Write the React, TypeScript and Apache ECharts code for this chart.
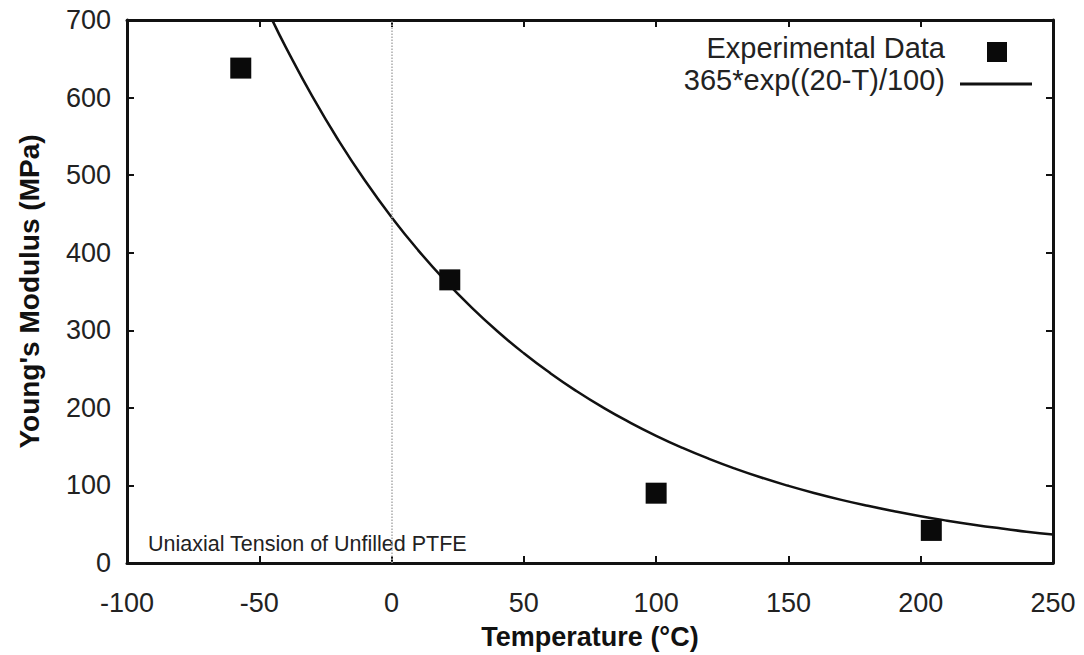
import React, { useEffect, useRef } from "react";
import * as echarts from "echarts";

const expTemps = [-57, 22, 100, 204];
const expModulus = [638, 365, 90, 42];

const fitTemps = [-45, -40, -30, -20, -10, 0, 10, 20, 30, 40, 50, 60, 70, 80, 90, 100, 110, 120, 130, 140, 150, 160, 170, 180, 190, 200, 210, 220, 230, 240, 250];
const fitModulus = [699.2, 665.1, 601.8, 544.5, 492.7, 445.8, 403.4, 365, 330.3, 298.8, 270.4, 244.7, 221.4, 200.3, 181.3, 164.0, 148.4, 134.3, 121.5, 109.9, 99.5, 90.0, 81.4, 73.7, 66.7, 60.3, 54.6, 49.4, 44.7, 40.4, 36.6];

const xTicks = [-100, -50, 0, 50, 100, 150, 200, 250];
const yTicks = [0, 100, 200, 300, 400, 500, 600, 700];

const legendLabels = ["Experimental Data", "365*exp((20-T)/100)"];
const annotation = "Uniaxial Tension of Unfilled PTFE";

const FONT = "Liberation Sans, Arial, sans-serif";

export default function App() {
  const ref = useRef<HTMLDivElement>(null);
  useEffect(() => {
    if (!ref.current) return;
    const chart = echarts.init(ref.current, null, { renderer: "svg" });
    const axisLine = { show: true, onZero: false, lineStyle: { color: "#111", width: 3 } };
    const tick = { show: true, inside: true, length: 7, lineStyle: { color: "#111", width: 2 } };
    chart.setOption({
      animation: false,
      backgroundColor: "#fff",
      grid: { left: 127, right: 31, top: 20, bottom: 87, containLabel: false },
      xAxis: [
        {
          type: "value",
          min: xTicks[0],
          max: xTicks[xTicks.length - 1],
          interval: 50,
          axisLine,
          axisTick: tick,
          splitLine: { show: false },
          axisLabel: { color: "#222", fontSize: 27, fontFamily: FONT, margin: 26 },
          name: "Temperature (°C)",
          nameLocation: "middle",
          nameGap: 60,
          nameTextStyle: { color: "#111", fontSize: 27, fontWeight: "bold", fontFamily: FONT },
        },
        {
          type: "value",
          position: "top",
          min: xTicks[0],
          max: xTicks[xTicks.length - 1],
          interval: 50,
          axisLine,
          axisTick: tick,
          splitLine: { show: false },
          axisLabel: { show: false },
        },
      ],
      yAxis: [
        {
          type: "value",
          min: yTicks[0],
          max: yTicks[yTicks.length - 1],
          interval: 100,
          axisLine,
          axisTick: tick,
          splitLine: { show: false },
          axisLabel: { color: "#222", fontSize: 27, fontFamily: FONT, margin: 16 },
          name: "Young's Modulus (MPa)",
          nameLocation: "middle",
          nameGap: 84,
          nameTextStyle: { color: "#111", fontSize: 28, fontWeight: "bold", fontFamily: FONT },
        },
        {
          type: "value",
          position: "right",
          min: yTicks[0],
          max: yTicks[yTicks.length - 1],
          interval: 100,
          axisLine,
          axisTick: tick,
          splitLine: { show: false },
          axisLabel: { show: false },
        },
      ],
      series: [
        {
          name: legendLabels[1],
          type: "line",
          data: fitTemps.map((t, i) => [t, fitModulus[i]]),
          smooth: true,
          showSymbol: false,
          lineStyle: { color: "#111", width: 2.5 },
          z: 3,
        },
        {
          name: legendLabels[0],
          type: "scatter",
          data: expTemps.map((t, i) => [t, expModulus[i]]),
          symbol: "rect",
          symbolSize: 21,
          itemStyle: { color: "#0a0a0a", opacity: 1 },
          z: 4,
          markLine: {
            silent: true,
            symbol: ["none", "none"],
            label: { show: false },
            lineStyle: { color: "#aaa", type: "dotted", width: 1.5 },
            data: [{ xAxis: 0 }],
          },
        },
      ],
      graphic: [
        {
          type: "text",
          right: 1084 - 945,
          top: 33,
          style: { text: legendLabels[0], fill: "#222", fontSize: 29, fontFamily: FONT, textAlign: "right" },
        },
        {
          type: "rect",
          shape: { x: 987, y: 42, width: 20, height: 20 },
          style: { fill: "#0a0a0a" },
        },
        {
          type: "text",
          right: 1084 - 945,
          top: 65,
          style: { text: legendLabels[1], fill: "#222", fontSize: 29, fontFamily: FONT, textAlign: "right" },
        },
        {
          type: "line",
          shape: { x1: 960, y1: 84, x2: 1032, y2: 84 },
          style: { stroke: "#111", lineWidth: 3 },
        },
        {
          type: "text",
          left: 148,
          top: 533,
          style: { text: annotation, fill: "#222", fontSize: 21.5, fontFamily: FONT },
        },
      ],
    });
    return () => chart.dispose();
  }, []);
  return <div ref={ref} style={{ position: "fixed", left: 0, top: 0, width: 1084, height: 655 }} />;
}
